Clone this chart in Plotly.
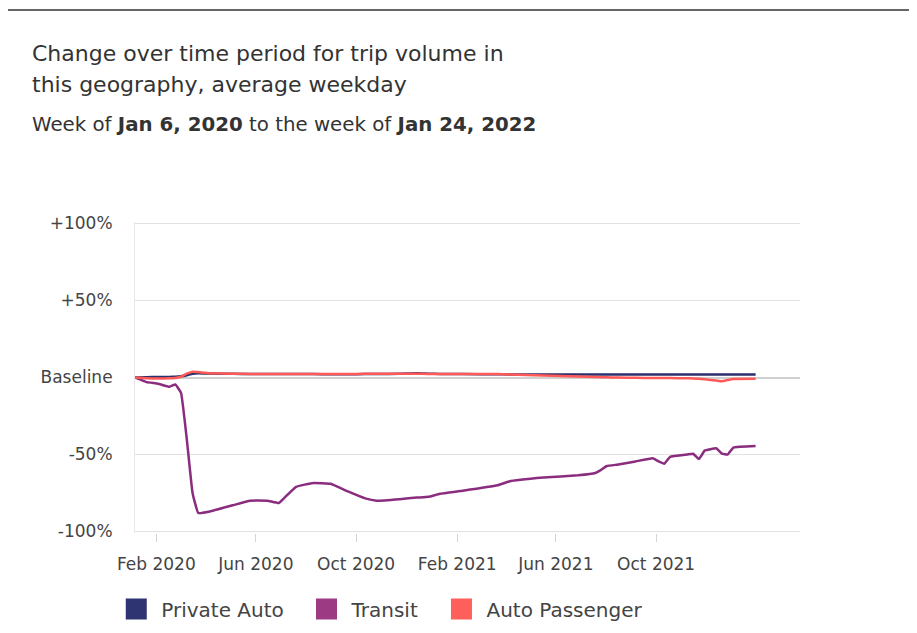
import plotly.graph_objects as go

# weekly sample dates (week of ...)
weeks = [
    "2020-01-06", "2020-01-20", "2020-02-03", "2020-02-17", "2020-02-24", "2020-03-02",
    "2020-03-09", "2020-03-16", "2020-03-23", "2020-04-06", "2020-05-04", "2020-05-25",
    "2020-06-15", "2020-06-29", "2020-07-06", "2020-07-20", "2020-08-10", "2020-08-31",
    "2020-09-21", "2020-10-12", "2020-10-26", "2020-11-23", "2020-12-14", "2020-12-28",
    "2021-01-11", "2021-02-08", "2021-03-22", "2021-04-05", "2021-05-17", "2021-06-28",
    "2021-07-19", "2021-07-26", "2021-08-02", "2021-08-16", "2021-09-06", "2021-09-27",
    "2021-10-04", "2021-10-11", "2021-10-18", "2021-11-08", "2021-11-15", "2021-11-22",
    "2021-11-29", "2021-12-13", "2021-12-20", "2021-12-27", "2022-01-03", "2022-01-30",
]

# % change vs baseline
private_auto = [
    0, 0.2, 0.3, 0.4, 0.5, 0.8, 1.5, 2.5, 2.8, 2.6, 2.4, 2.3,
    2.2, 2.2, 2.2, 2.3, 2.2, 2.1, 2.1, 2.2, 2.3, 2.4, 2.8, 2.5,
    2.3, 2.2, 2.1, 2.0, 2.0, 2.0, 2.0, 2.0, 2.0, 2.0, 2.0, 2.0,
    2.0, 2.0, 2.0, 2.0, 2.0, 2.0, 2.0, 2.0, 2.0, 2.0, 2.0, 2.0,
]
transit = [
    0, -3, -4, -6, -4.5, -10, -40, -75, -88, -87, -83, -80,
    -80, -81.5, -78, -71, -68.5, -69, -74, -78.5, -80, -79, -78, -77.5,
    -75.5, -73.5, -70, -67.5, -65, -63.5, -62, -60, -57.5, -56.5, -54.5, -52.5,
    -54.5, -56, -51.5, -50, -49.5, -53, -47.5, -46, -49.5, -50, -45.5, -44.5,
]
auto_passenger = [
    0, -0.5, -0.7, -0.5, -0.3, 0.5, 2.5, 3.8, 3.5, 2.8, 2.5, 2.3,
    2.2, 2.2, 2.2, 2.3, 2.3, 2.3, 2.3, 2.4, 2.5, 2.5, 2.5, 2.3,
    2.2, 2.2, 2.2, 2.0, 1.3, 0.6, 0.3, 0.2, 0.1, 0, -0.2, -0.3,
    -0.3, -0.4, -0.4, -0.5, -0.6, -0.8, -1.2, -2.0, -2.4, -1.6, -0.9, -0.8,
]

series = [
    ("Private Auto", private_auto, "#2b2f6b", "#2e3372"),
    ("Transit", transit, "#8a2d7e", "#9c3a83"),
    ("Auto Passenger", auto_passenger, "#ff5a58", "#ff5f5a"),
]

x_tickvals = ["2020-02-01", "2020-06-01", "2020-10-01", "2021-02-01", "2021-06-01", "2021-10-01"]
y_tickvals = [-100, -50, 0, 50, 100]
y_ticktext = ["-100%", "-50%", "Baseline", "+50%", "+100%"]

FONT = "DejaVu Sans"

fig = go.Figure()

# lines (transit underneath, then auto lines)
for name, vals, line_color, _ in [series[1], series[0], series[2]]:
    fig.add_trace(
        go.Scatter(
            x=weeks,
            y=vals,
            mode="lines",
            name=name,
            legendgroup=name,
            showlegend=False,
            line=dict(color=line_color, width=2.5, shape="spline", smoothing=0.3),
        )
    )

# square legend entries
for name, _, _, sq_color in series:
    fig.add_trace(
        go.Scatter(
            x=[None],
            y=[None],
            mode="markers",
            name=name + "\u00a0\u00a0",
            legendgroup=name,
            marker=dict(symbol="square", size=16, color=sq_color,
                        line=dict(color=sq_color, width=5)),
        )
    )

# page body adds an 8px offset, so the figure is 8px smaller than the window
fig.update_layout(
    width=909,
    height=625,
    margin=dict(l=127, r=117, t=214, b=100, autoexpand=False),
    paper_bgcolor="white",
    plot_bgcolor="white",
    font=dict(family=FONT, color="#444"),
    showlegend=True,
    legend=dict(
        orientation="h",
        x=-0.0357,
        xanchor="left",
        y=-0.244,
        yanchor="middle",
        itemwidth=40,
        font=dict(family=FONT, size=20, color="#444"),
        bgcolor="rgba(0,0,0,0)",
    ),
)

fig.update_xaxes(
    range=["2020-01-06", "2022-03-25"],
    tickvals=x_tickvals,
    tickformat="%b %Y",
    showgrid=False,
    zeroline=False,
    showline=False,
    ticks="outside",
    ticklen=8,
    tickcolor="#d4d4d4",
    ticklabelstandoff=8,
    tickfont=dict(family=FONT, size=17, color="#444"),
)

# range a touch wider than +/-100 so the edge gridlines are kept
fig.update_yaxes(
    range=[-101, 101],
    tickvals=y_tickvals,
    ticktext=y_ticktext,
    showgrid=True,
    gridcolor="#e2e2e2",
    gridwidth=1,
    zeroline=True,
    zerolinecolor="#d0d0d0",
    zerolinewidth=2,
    showline=True,
    linecolor="#e8e8e8",
    ticks="",
    ticklabelstandoff=18,
    tickfont=dict(family=FONT, size=17, color="#444"),
)

# title and subtitle
title_lines = [
    ("Change over time period for trip volume in", 1.5433),
    ("this geography, average weekday", 1.4437),
]
for txt, yy in title_lines:
    fig.add_annotation(
        text=txt, xref="paper", yref="paper", x=-0.158, y=yy,
        xanchor="left", yanchor="middle", showarrow=False,
        font=dict(family=FONT, size=22, color="#333"),
    )
fig.add_annotation(
    text="Week of <b>Jan 6, 2020</b> to the week of <b>Jan 24, 2022</b>",
    xref="paper", yref="paper", x=-0.158, y=1.315,
    xanchor="left", yanchor="middle", showarrow=False,
    font=dict(family=FONT, size=19.8, color="#333"),
)

# card frame (top edge)
fig.add_shape(type="line", xref="paper", yref="paper", x0=-0.2, x1=1.2,
              y0=1.6817, y1=1.6817, line=dict(color="#333", width=1.5))

fig.write_html("out.html")
